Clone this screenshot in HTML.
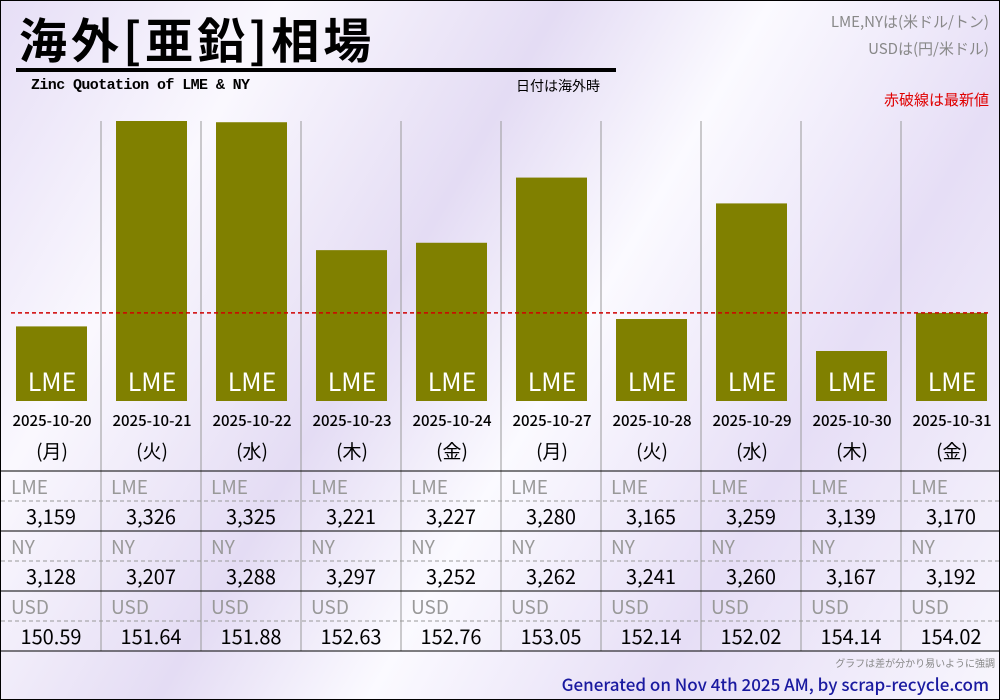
<!DOCTYPE html>
<html><head><meta charset="utf-8">
<style>
html,body{margin:0;padding:0}
body{width:1000px;height:700px;overflow:hidden;font-family:"Liberation Sans","Noto Sans CJK JP",sans-serif}
#wrap{position:relative;width:998px;height:698px;border:1px solid #000;
background:linear-gradient(120deg,#e6def6 0%,#faf8fe 20%,#e4dcf4 40%,#fbfaff 55%,#e6def6 75%,#f8f6fd 100%);}
.t{position:absolute;white-space:nowrap}
svg text{font-family:"Noto Sans CJK JP",sans-serif}
</style></head><body>
<div id="wrap">
<div class="t" style="left:18px;top:6px;font-size:48px;font-weight:bold;line-height:60px;font-family:'Noto Sans CJK JP',sans-serif;letter-spacing:4px">海外[亜鉛]相場</div>
<div style="position:absolute;left:15px;top:67px;width:600px;height:4px;background:#000"></div>
<div class="t" style="left:30px;top:76px;font-size:15px;font-weight:bold;font-family:'Liberation Mono',monospace;letter-spacing:-0.6px">Zinc Quotation of LME &amp; NY</div>
<div class="t" style="left:515px;top:75px;font-size:14px;font-family:'Noto Sans CJK JP',sans-serif">日付は海外時</div>
<div class="t" style="right:10px;top:10px;font-size:15px;color:#888;font-family:'Noto Sans CJK JP',sans-serif">LME,NYは(米ドル/トン)</div>
<div class="t" style="right:10px;top:37px;font-size:15px;color:#888;font-family:'Noto Sans CJK JP',sans-serif">USDは(円/米ドル)</div>
<div class="t" style="right:10px;top:88px;font-size:15px;color:#e00000;font-family:'Noto Sans CJK JP',sans-serif">赤破線は最新値</div>
<svg id="chart" width="998" height="698" style="position:absolute;left:0;top:0"></svg>
<div class="t" style="right:4px;top:654px;font-size:10px;color:#888;font-family:'Noto Sans CJK JP',sans-serif">グラフは差が分かり易いように強調</div>
<div class="t" style="right:10px;top:670px;font-size:17px;color:#1a1aa0;font-family:'Noto Sans CJK JP',sans-serif;font-weight:500">Generated on Nov 4th 2025 AM, by scrap-recycle.com</div>
</div>
<script>
const dates=["2025-10-20","2025-10-21","2025-10-22","2025-10-23","2025-10-24","2025-10-27","2025-10-28","2025-10-29","2025-10-30","2025-10-31"];
const weekdays=["(月)","(火)","(水)","(木)","(金)","(月)","(火)","(水)","(木)","(金)"];
const lme=[3159,3326,3325,3221,3227,3280,3165,3259,3139,3170];
const ny=[3128,3207,3288,3297,3252,3262,3241,3260,3167,3192];
const usd=["150.59","151.64","151.88","152.63","152.76","153.05","152.14","152.02","154.14","154.02"];
const NS="http://www.w3.org/2000/svg";
const svg=document.getElementById('chart');
const vMax=3326,vMin=3139,yMax=120,yMin=350;
function y(v){return yMin-(v-vMin)*(yMin-yMax)/(vMax-vMin);}
function x(i){return i*100;}
function mk(t,a,txt){const e=document.createElementNS(NS,t);for(const k in a)e.setAttribute(k,a[k]);if(txt!=null)e.textContent=txt;svg.appendChild(e);return e;}
const fmt=v=>v.toLocaleString('en-US');
for(let i=1;i<10;i++){
  const l=mk('line',{x1:x(i),x2:x(i),y1:120,y2:650,stroke:'#999','stroke-width':1});
  
  
}
[470,530,590,650].forEach(yy=>{const l=mk('line',{x1:0,x2:998,y1:yy,y2:yy,stroke:'#000','stroke-width':1});
  
  });
[500,560,620].forEach(yy=>{const l=mk('line',{x1:0,x2:998,y1:yy,y2:yy,stroke:'#999','stroke-width':1,'stroke-dasharray':'4,3'});
  
  });
lme.forEach((v,i)=>{
  const b=mk('rect',{x:x(i)+15,y:y(v),width:71,height:400-y(v),fill:'#808000'});
  
  
  const t=mk('text',{x:x(i)+51,y:390,'text-anchor':'middle','font-size':25,fill:'#fff'},'LME');
  
  
  const d=mk('text',{x:x(i)+51,y:425,'text-anchor':'middle','font-size':15,'font-weight':500,fill:'#000'},dates[i]);
  
  
  const w=mk('text',{x:x(i)+51,y:457,'text-anchor':'middle','font-size':19,fill:'#000'},weekdays[i]);
  
  
  [['LME',fmt(lme[i]),470],['NY',fmt(ny[i]),530],['USD',usd[i],590]].forEach(r=>{
    const h=mk('text',{x:x(i)+10,y:r[2]+23,'font-size':19,fill:'#999'},r[0]);
    
    
    const c=mk('text',{x:x(i)+50,y:r[2]+53,'text-anchor':'middle','font-size':20,fill:'#000'},r[1]);
    
    
  });
});
const rl=mk('line',{x1:10,x2:990,y1:y(lme[lme.length-1]),y2:y(lme[lme.length-1]),stroke:'#d00000','stroke-width':1.5,'stroke-dasharray':'4,3'});


</script>
</body></html>
